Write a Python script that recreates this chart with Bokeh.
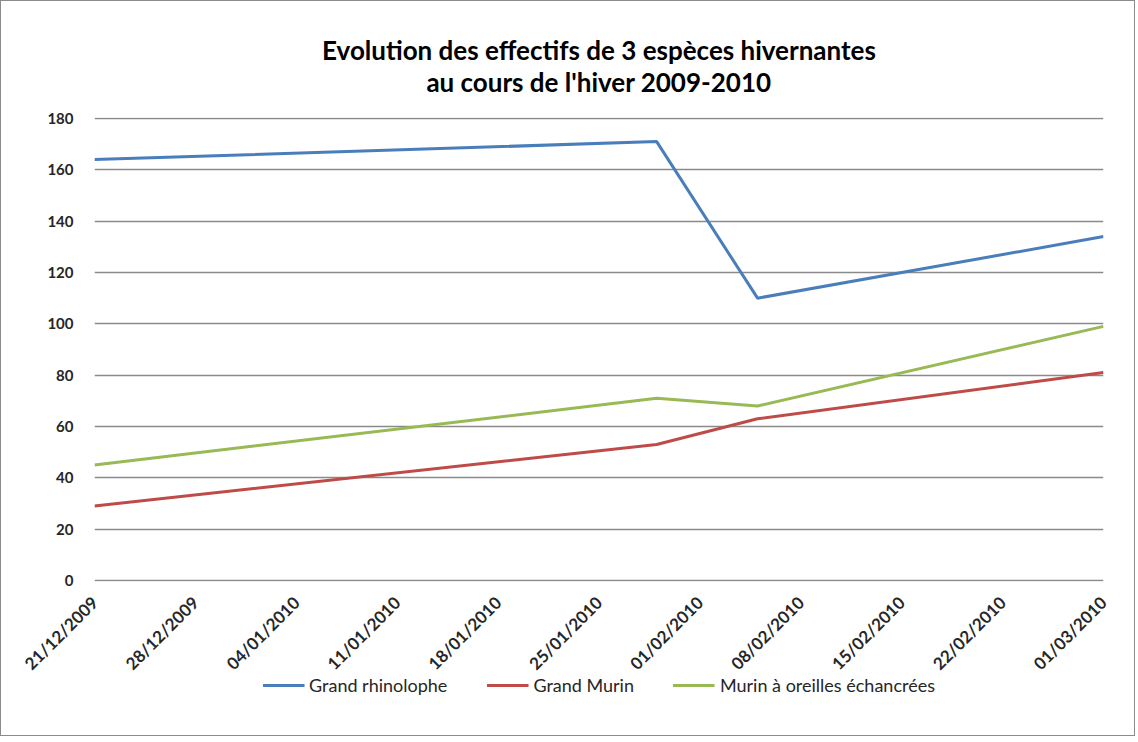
from datetime import datetime
import math
from bokeh.plotting import figure
from bokeh.layouts import column
from bokeh.models import (FixedTicker, DatetimeTickFormatter, Range1d, Legend, LegendItem, Title, SingleIntervalTicker)
from bokeh.embed import file_html
from bokeh.resources import INLINE

dates = ["21/12/2009", "29/01/2010", "05/02/2010", "01/03/2010"]
grand_rhinolophe = [164, 171, 110, 134]
grand_murin = [29, 53, 63, 81]
murin_oreilles = [45, 71, 68, 99]
tick_labels = ["21/12/2009", "28/12/2009", "04/01/2010", "11/01/2010", "18/01/2010",
               "25/01/2010", "01/02/2010", "08/02/2010", "15/02/2010", "22/02/2010", "01/03/2010"]
title_lines = ["Evolution des effectifs de 3 espèces hivernantes", "au cours de l'hiver 2009-2010"]
names = ["Grand rhinolophe", "Grand Murin", "Murin à oreilles échancrées"]
series = [grand_rhinolophe, grand_murin, murin_oreilles]

def to_dt(s):
    return datetime.strptime(s, "%d/%m/%Y")

x = [to_dt(d) for d in dates]
ticks = [to_dt(t).timestamp() * 1000 for t in tick_labels]

FONT = "Lato"
colors = ["#4A7EBB", "#BE4B48", "#98B954"]

p = figure(frame_width=1009, frame_height=464, output_backend="svg", toolbar_location=None,
           x_axis_type="datetime",
           x_range=Range1d(x[0], x[-1]), y_range=Range1d(-0.4, 180.4))
p.min_border_left = 93
p.min_border_right = 31
p.min_border_top = 116
p.min_border_bottom = 0
p.outline_line_color = None
p.background_fill_color = "white"
p.border_fill_color = "white"

for ys, c in zip(series, colors):
    p.line(x, ys, line_color=c, line_width=3)

p.xaxis.ticker = FixedTicker(ticks=ticks)
p.xaxis.formatter = DatetimeTickFormatter(days="%d/%m/%Y", months="%d/%m/%Y", years="%d/%m/%Y")
p.xaxis.major_label_orientation = math.pi / 4
p.yaxis.ticker = SingleIntervalTicker(interval=20)
for ax in (p.xaxis, p.yaxis):
    ax.axis_line_color = None
    ax.major_tick_line_color = None
    ax.minor_tick_line_color = None
    ax.major_label_text_font = FONT
    ax.major_label_text_color = "#262626"
    ax.major_label_text_font_style = "bold"
p.yaxis.major_label_text_font_size = "15px"
p.yaxis.major_label_standoff = 15
p.xaxis.major_label_text_font_size = "17px"
p.xaxis.major_label_standoff = 12
p.ygrid.grid_line_color = "#8a8a8a"
p.xgrid.grid_line_color = None
p.ygrid.grid_line_width = 1.5
p.ygrid.ticker = SingleIntervalTicker(interval=20)

title_kw = dict(text="\n".join(title_lines), align="center", text_font=FONT,
                text_font_size="26px", text_font_style="bold", text_color="#000000",
                standoff=39)
if "text_align" in Title.properties():
    title_kw["text_align"] = "center"
p.add_layout(Title(**title_kw), "above")

# legend strip below the chart
lf = figure(width=1133, height=61, output_backend="svg", toolbar_location=None,
            x_axis_type="datetime", x_axis_location=None, y_axis_location=None,
            x_range=Range1d(x[0], x[-1]), y_range=Range1d(1000, 1001))
lf.min_border = 0
lf.outline_line_color = None
lf.background_fill_alpha = 0
lf.border_fill_alpha = 0
lf.xgrid.grid_line_color = None
lf.ygrid.grid_line_color = None
lf.styles = {"margin-top": "-10px"}
items = []
for ys, c, n in zip(series, colors, names):
    r = lf.line(x, ys, line_color=c, line_width=3)
    items.append(LegendItem(label=n, renderers=[r]))
legend = Legend(items=items, orientation="horizontal", location="top_center",
                label_text_font=FONT, label_text_font_size="18px", label_text_color="#262626",
                border_line_color=None, background_fill_alpha=0,
                glyph_width=42, label_standoff=5, spacing=39, margin=0, padding=0)
lf.add_layout(legend, "center")

layout = column(p, lf, spacing=0,
                styles={"border": "1.5px solid #8c8c8c", "background-color": "white"})

open("out.html", "w").write(file_html(layout, INLINE))
